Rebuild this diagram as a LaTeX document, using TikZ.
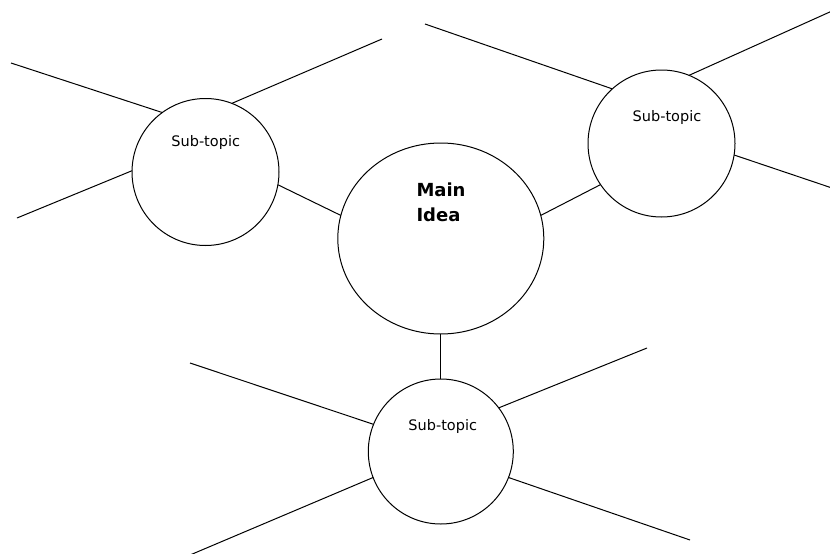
\documentclass[tikz,border=0pt]{standalone}
\usepackage{fontspec}
\setmainfont{DejaVu Sans}
\usetikzlibrary{shapes.geometric}
\begin{document}
\begin{tikzpicture}[x=1pt,y=-1pt,
  line width=1pt,
  bubble/.style={draw, circle, inner sep=0pt, outer sep=0pt},
  mainbubble/.style={draw, ellipse, inner sep=0pt, outer sep=0pt, minimum width=206pt, minimum height=191pt},
  subtext/.style={anchor=base, inner sep=0pt, font=\fontsize{14.5}{17}\selectfont},
  maintext/.style={anchor=west, inner sep=0pt, align=left, font=\bfseries\fontsize{18}{25}\selectfont},
  spoke/.style={draw, line width=1pt}
]
\useasboundingbox (0,0) rectangle (830,554);
% circles
\node[mainbubble] (main) at (440.8,238.5) {};
\node[bubble, minimum size=147pt] (tl) at (205.5,172) {};
\node[bubble, minimum size=147pt] (tr) at (661.5,143.5) {};
\node[bubble, minimum size=145pt] (bo) at (440.8,451.5) {};
% texts
\node[maintext] (maint) at (416,202.6) {Main\\Idea};
\node[subtext] (tlt) at (205.7,146) {Sub-topic};
\node[subtext] (trt) at (667,121) {Sub-topic};
\node[subtext] (bot) at (442.7,430) {Sub-topic};
% free ends
\coordinate (tl1) at (11,63);
\coordinate (tl2) at (382,39);
\coordinate (tl3) at (17,218);
\coordinate (tr1) at (425,24);
\coordinate (tr2) at (832,11);
\coordinate (tr3) at (832,188);
\coordinate (bo1) at (190,363);
\coordinate (bo2) at (647,348);
\coordinate (bo3) at (190,555);
\coordinate (bo4) at (690,540);
% connectors
\draw[spoke] (tl.-10) -- (main.167);
\draw[spoke] (main.13.4) -- (tr.214.6);
\draw[spoke] (main.south) -- (bo.north);
% spokes
\draw[spoke] (tl.126.6) -- (tl1);
\draw[spoke] (tl.69) -- (tl2);
\draw[spoke] (tl.179) -- (tl3);
\draw[spoke] (tr.132.8) -- (tr1);
\draw[spoke] (tr.68.8) -- (tr2);
\draw[spoke] (tr.-9) -- (tr3);
\draw[spoke] (bo.158) -- (bo1);
\draw[spoke] (bo.37.4) -- (bo2);
\draw[spoke] (bo.201.7) -- (bo3);
\draw[spoke] (bo.-21.5) -- (bo4);
\end{tikzpicture}
\end{document}
